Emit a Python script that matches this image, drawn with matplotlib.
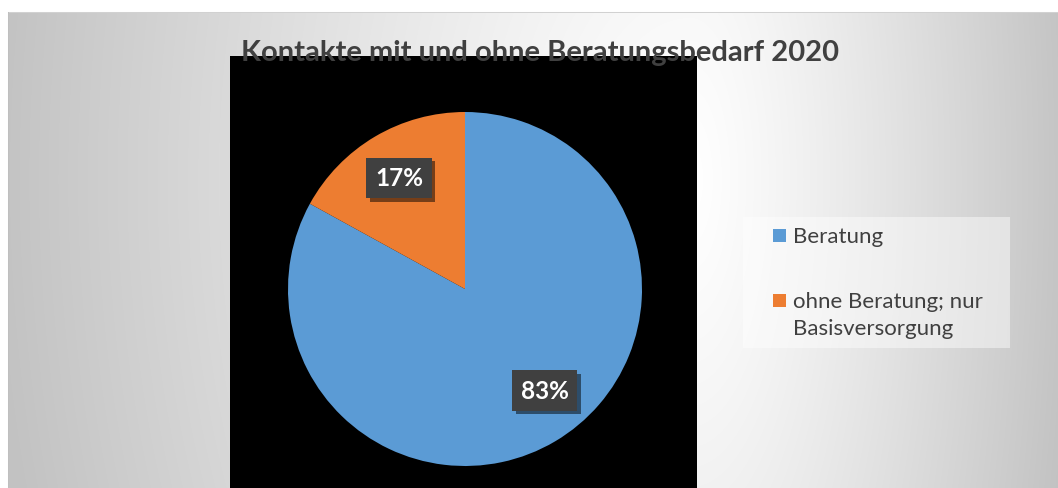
import numpy as np
import matplotlib
matplotlib.use("Agg")
import matplotlib.pyplot as plt
from matplotlib.patches import Rectangle
import matplotlib.patheffects as pe

# ---- data ----
title = "Kontakte mit und ohne Beratungsbedarf 2020"
categories = ["Beratung", "ohne Beratung; nur\nBasisversorgung"]
values = [83, 17]
colors = ["#5B9BD5", "#ED7D31"]

W, H = 1058, 489
fig = plt.figure(figsize=(W / 100, H / 100), dpi=100)
plt.rcParams['font.family'] = ['Lato', 'DejaVu Sans']

def fx(x):
    return x / W

def fy(y):
    return 1 - y / H

# ---- background gradient ----
bg = fig.add_axes([0, 0, 1, 1])
bg.set_axis_off()
xx, yy = np.meshgrid(np.arange(W), np.arange(H))
cx, cy = 690, 180
rx = np.where(xx < cx, 690.0, 380.0)
ry = 1100.0
d = np.sqrt(((xx - cx) / rx) ** 2 + ((yy - cy) / ry) ** 2)
d = np.clip(d, 0, 1)
v = (255 - 60 * d ** 1.2) / 255.0
img = np.dstack([v, v, v])
img[:13, :, :] = 1.0
img[:, :8, :] = 1.0
img[13, 8:, :] = 0.82
img[13:, 8, :] = 0.75
bg.imshow(img, extent=[0, W, H, 0], aspect='auto', interpolation='bilinear')
bg.set_xlim(0, W)
bg.set_ylim(H, 0)

# black plot area
bg.add_patch(Rectangle((230, 57), 467, H - 57, facecolor='black', edgecolor='none', zorder=2))

# title
bg.text(540, 53, title, ha='center', va='center', fontsize=21, fontweight='bold',
        color='#404040', zorder=5)

# legend box
bg.add_patch(Rectangle((743, 218), 267, 131, facecolor='white', alpha=0.45,
                       edgecolor='none', zorder=2))
leg_sq_y = [230, 295]
for i, lab in enumerate(categories):
    bg.add_patch(Rectangle((773, leg_sq_y[i]), 13, 13, facecolor=colors[i],
                           edgecolor='none', zorder=3))
    bg.text(793, leg_sq_y[i] - 3, lab, ha='left', va='top',
            fontsize=16, color='#404040', zorder=3, linespacing=1.42)

# ---- pie ----
R = 177
pcx, pcy = 465, 290
ax = fig.add_axes([fx(pcx - R), fy(pcy + R), 2 * R / W, 2 * R / H])
ax.set_axis_off()
wedges = ax.pie(values, colors=colors, startangle=90, counterclock=False,
                radius=1.0, wedgeprops=dict(linewidth=0))[0]
ax.set_xlim(-1, 1)
ax.set_ylim(-1, 1)

# percent labels (best-fit placement inside slices)
label_dist = [0.73, 0.73]
label_shift = [7.5, 0.0]
for val, w, r, sh in zip(values, wedges, label_dist, label_shift):
    mid = np.deg2rad((w.theta1 + w.theta2) / 2 + sh)
    t = ax.text(r * np.cos(mid), r * np.sin(mid), f"{val}%", ha='center', va='center',
                fontsize=17.5, fontweight='bold', color='white', zorder=6,
                bbox=dict(boxstyle='square,pad=0.36', facecolor='#404040', edgecolor='none'))
    t.get_bbox_patch().set_path_effects([
        pe.SimplePatchShadow(offset=(2.5, -2.5), shadow_rgbFace='black', alpha=0.5),
        pe.Normal()])

fig.savefig("out.png", dpi=100)
